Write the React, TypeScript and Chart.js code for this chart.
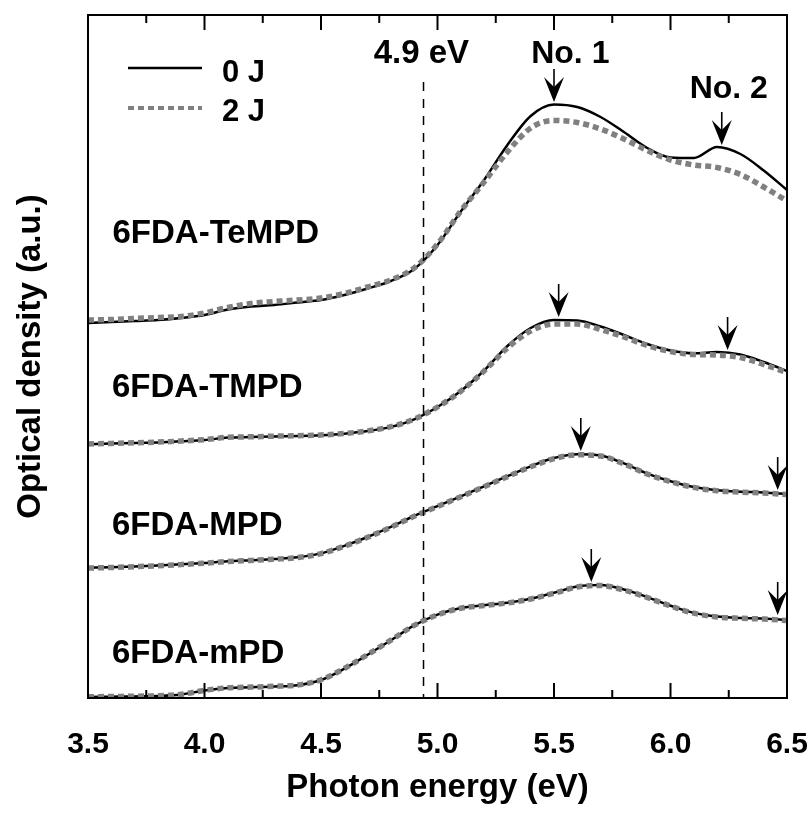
import React, { useEffect, useRef } from 'react';
import { Chart, registerables } from 'chart.js';

Chart.register(...registerables);

// Photon energy (eV)
const energy = [
  3.5, 3.6, 3.7, 3.8, 3.9, 4.0, 4.1, 4.2, 4.3, 4.4, 4.5, 4.6, 4.7, 4.8, 4.9, 5.0,
  5.1, 5.2, 5.3, 5.4, 5.5, 5.6, 5.7, 5.8, 5.9, 6.0, 6.1, 6.2, 6.3, 6.4, 6.5,
];

// Optical density (a.u., curves vertically offset as in the figure)
const teMPD_0J = [3.75, 3.76, 3.77, 3.78, 3.8, 3.83, 3.885, 3.915, 3.93, 3.955, 3.98, 4.03, 4.095, 4.17, 4.29, 4.53, 4.865, 5.18, 5.53, 5.82, 5.935, 5.91, 5.81, 5.66, 5.5, 5.405, 5.4, 5.51, 5.44, 5.275, 5.08];
const teMPD_2J = [3.78, 3.785, 3.795, 3.805, 3.815, 3.85, 3.905, 3.945, 3.965, 3.98, 4.0, 4.045, 4.11, 4.18, 4.3, 4.54, 4.87, 5.16, 5.46, 5.7, 5.775, 5.755, 5.69, 5.59, 5.475, 5.38, 5.33, 5.305, 5.235, 5.11, 4.97];
const tMPD_0J = [2.537, 2.544, 2.549, 2.556, 2.567, 2.58, 2.604, 2.61, 2.616, 2.62, 2.628, 2.643, 2.669, 2.711, 2.787, 2.91, 3.07, 3.275, 3.52, 3.7, 3.78, 3.775, 3.715, 3.63, 3.54, 3.475, 3.447, 3.46, 3.435, 3.36, 3.27];
const tMPD_2J = [2.54, 2.546, 2.552, 2.559, 2.57, 2.584, 2.607, 2.612, 2.618, 2.623, 2.63, 2.645, 2.671, 2.713, 2.789, 2.91, 3.068, 3.27, 3.5, 3.67, 3.74, 3.74, 3.685, 3.61, 3.525, 3.465, 3.435, 3.43, 3.405, 3.335, 3.255];
const mPDcap_0J = [1.303, 1.308, 1.315, 1.325, 1.337, 1.35, 1.367, 1.378, 1.39, 1.407, 1.446, 1.521, 1.61, 1.711, 1.82, 1.918, 2.016, 2.117, 2.218, 2.317, 2.4, 2.438, 2.425, 2.346, 2.244, 2.168, 2.11, 2.077, 2.063, 2.055, 2.04];
const mPDcap_2J = [1.3, 1.305, 1.313, 1.323, 1.335, 1.348, 1.365, 1.376, 1.388, 1.405, 1.444, 1.518, 1.607, 1.708, 1.817, 1.915, 2.013, 2.113, 2.214, 2.312, 2.394, 2.432, 2.42, 2.342, 2.24, 2.164, 2.106, 2.073, 2.059, 2.05, 2.035];
const mPD_0J = [0.01, 0.013, 0.016, 0.02, 0.035, 0.075, 0.1, 0.107, 0.115, 0.128, 0.18, 0.293, 0.432, 0.577, 0.726, 0.834, 0.901, 0.928, 0.953, 0.993, 1.052, 1.115, 1.13, 1.085, 1.009, 0.923, 0.851, 0.814, 0.8, 0.795, 0.78];
const mPD_2J = [0.012, 0.015, 0.018, 0.022, 0.037, 0.077, 0.102, 0.109, 0.117, 0.13, 0.182, 0.295, 0.434, 0.578, 0.726, 0.832, 0.898, 0.925, 0.95, 0.99, 1.048, 1.11, 1.125, 1.08, 1.005, 0.92, 0.848, 0.81, 0.797, 0.79, 0.775];

const sampleNames = ['6FDA-TeMPD', '6FDA-TMPD', '6FDA-MPD', '6FDA-mPD'];
const sampleLabelX = [3.605, 3.603, 3.603, 3.603];
const sampleLabelY = [4.547, 3.013, 1.63, 0.347];

// Peak arrows (No. 1 / No. 2)
const arrowEnergy = [5.5, 6.22, 5.52, 6.245, 5.615, 6.46, 5.66, 6.46];
const arrowTipOD = [5.96, 5.53, 3.81, 3.48, 2.47, 2.08, 1.16, 0.83];

const peakNames = ['No. 1', 'No. 2'];
const peakLabelX = [5.57, 6.25];
const peakLabelY = [6.347, 5.997];

const markerEnergy = 4.94;
const markerText = '4.9 eV';
const markerTextX = 4.931;
const markerTextY = 6.347;
const markerTopOD = 6.16;

const majorTicks = [3.5, 4.0, 4.5, 5.0, 5.5, 6.0, 6.5];
const minorTicks = [3.75, 4.25, 4.75, 5.25, 5.75, 6.25];
const legendLabels = ['0 J', '2 J'];

const FAMILY = '"Liberation Sans", Arial, Helvetica, sans-serif';
const GREY = '#808080';

export default function App() {
  const ref = useRef<HTMLCanvasElement | null>(null);

  useEffect(() => {
    const canvas = ref.current;
    if (!canvas) return;
    const pts = (vals: number[]) => energy.map((x, i) => ({ x, y: vals[i] }));
    const pairs: [number[], number[]][] = [
      [teMPD_0J, teMPD_2J],
      [tMPD_0J, tMPD_2J],
      [mPDcap_0J, mPDcap_2J],
      [mPD_0J, mPD_2J],
    ];
    const datasets: any[] = [];
    pairs.forEach(([v0, v2], k) => {
      datasets.push({
        label: sampleNames[k] + ' 2 J',
        data: pts(v2),
        borderColor: GREY,
        borderWidth: 5.5,
        borderDash: [6, 4],
        borderCapStyle: 'butt',
        pointRadius: 0,
        fill: false,
        cubicInterpolationMode: 'monotone',
        order: 0,
      });
      datasets.push({
        label: sampleNames[k] + ' 0 J',
        data: pts(v0),
        borderColor: '#000',
        borderWidth: 2.5,
        pointRadius: 0,
        fill: false,
        cubicInterpolationMode: 'monotone',
        order: 1,
      });
    });

    const overlay = {
      id: 'overlay',
      afterDraw(chart: any) {
        const { ctx, chartArea: a } = chart;
        const xs = chart.scales.x;
        const ys = chart.scales.y;
        const line = (x1: number, y1: number, x2: number, y2: number) => {
          ctx.beginPath();
          ctx.moveTo(x1, y1);
          ctx.lineTo(x2, y2);
          ctx.stroke();
        };
        ctx.save();
        ctx.strokeStyle = '#000';
        ctx.lineWidth = 2;
        ctx.strokeRect(a.left, a.top, a.right - a.left, a.bottom - a.top);
        majorTicks.forEach((v) => {
          const p = xs.getPixelForValue(v);
          line(p, a.bottom, p, a.bottom - 15);
          line(p, a.top, p, a.top + 15);
        });
        minorTicks.forEach((v) => {
          const p = xs.getPixelForValue(v);
          line(p, a.bottom, p, a.bottom - 8);
          line(p, a.top, p, a.top + 8);
        });

        // 4.9 eV dashed marker
        const mx = xs.getPixelForValue(markerEnergy);
        ctx.lineWidth = 1.5;
        ctx.setLineDash([9, 8]);
        line(mx, ys.getPixelForValue(markerTopOD), mx, a.bottom);
        ctx.setLineDash([]);

        // arrows
        ctx.fillStyle = '#000';
        arrowEnergy.forEach((e, i) => {
          const x = xs.getPixelForValue(e);
          const tip = ys.getPixelForValue(arrowTipOD[i]);
          ctx.lineWidth = 1.6;
          line(x, tip - 33, x, tip - 10);
          ctx.beginPath();
          ctx.moveTo(x, tip);
          ctx.lineTo(x - 10, tip - 25);
          ctx.lineTo(x, tip - 15);
          ctx.lineTo(x + 10, tip - 25);
          ctx.closePath();
          ctx.fill();
        });

        // texts
        ctx.fillStyle = '#000';
        ctx.textBaseline = 'alphabetic';
        ctx.font = `bold 33px ${FAMILY}`;
        ctx.textAlign = 'left';
        sampleNames.forEach((n, i) => {
          ctx.fillText(n, xs.getPixelForValue(sampleLabelX[i]), ys.getPixelForValue(sampleLabelY[i]));
        });
        ctx.textAlign = 'center';
        ctx.fillText(markerText, xs.getPixelForValue(markerTextX), ys.getPixelForValue(markerTextY));
        ctx.font = `bold 32px ${FAMILY}`;
        peakNames.forEach((n, i) => {
          ctx.fillText(n, xs.getPixelForValue(peakLabelX[i]), ys.getPixelForValue(peakLabelY[i]));
        });

        // legend
        const lx1 = a.left + 40;
        const lx2 = a.left + 114;
        ctx.strokeStyle = '#000';
        ctx.lineWidth = 2.5;
        line(lx1, a.top + 53, lx2, a.top + 53);
        ctx.strokeStyle = GREY;
        ctx.lineWidth = 4;
        ctx.setLineDash([6, 4]);
        line(lx1, a.top + 93, lx2, a.top + 93);
        ctx.setLineDash([]);
        ctx.font = `bold 31px ${FAMILY}`;
        ctx.textAlign = 'left';
        ctx.fillText(legendLabels[0], a.left + 134, a.top + 67);
        ctx.fillText(legendLabels[1], a.left + 134, a.top + 106);
        ctx.restore();
      },
    };

    const chart = new Chart(canvas, {
      type: 'line',
      data: { datasets },
      options: {
        animation: false,
        responsive: false,
        maintainAspectRatio: false,
        layout: { padding: { top: 15, right: 24, left: 0, bottom: 0 } },
        plugins: { legend: { display: false }, tooltip: { enabled: false } },
        scales: {
          x: {
            type: 'linear',
            min: 3.5,
            max: 6.5,
            afterBuildTicks: (s: any) => {
              s.ticks = majorTicks.map((v) => ({ value: v }));
            },
            afterFit: (s: any) => {
              s.height = 118;
              s.paddingLeft = 0;
              s.paddingRight = 0;
            },
            ticks: {
              autoSkip: false,
              maxRotation: 0,
              padding: 29,
              color: '#000',
              font: { family: FAMILY, size: 30, weight: 'bold' },
              callback: (v: any) => Number(v).toFixed(1),
            },
            grid: { display: false, drawTicks: false },
            border: { display: false },
            title: {
              display: true,
              text: 'Photon energy (eV)',
              color: '#000',
              font: { family: FAMILY, size: 33, weight: 'bold' },
              padding: { top: 0, bottom: 8 },
            },
          },
          y: {
            type: 'linear',
            min: 0,
            max: 6.83,
            afterFit: (s: any) => {
              s.width = 88;
              s.paddingTop = 0;
              s.paddingBottom = 0;
            },
            ticks: { display: false },
            grid: { display: false, drawTicks: false },
            border: { display: false },
            title: {
              display: true,
              text: 'Optical density (a.u.)',
              color: '#000',
              font: { family: FAMILY, size: 33, weight: 'bold' },
              padding: { top: 11, bottom: 0 },
            },
          },
        },
      } as any,
      plugins: [overlay],
    });
    return () => chart.destroy();
  }, []);

  return (
    <div style={{ position: 'absolute', left: 0, top: 0, width: 811, height: 816, background: '#fff' }}>
      <canvas ref={ref} width={811} height={816} style={{ display: 'block', width: 811, height: 816 }} />
    </div>
  );
}
